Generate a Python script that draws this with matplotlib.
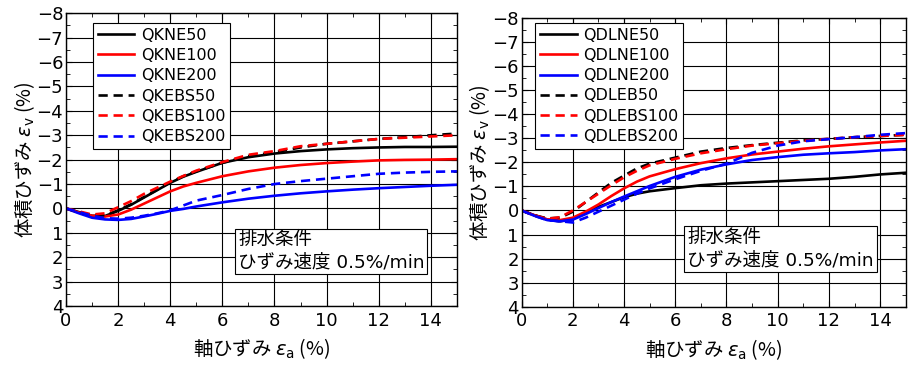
import matplotlib
matplotlib.use('Agg')
import matplotlib.pyplot as plt
from matplotlib.ticker import MultipleLocator

# 英数字は DejaVu、日本語は Noto Sans CJK JP にフォールバック
plt.rcParams['font.family'] = ['DejaVu Sans', 'Noto Sans CJK JP']
plt.rcParams['mathtext.fontset'] = 'dejavusans'
JP = ['Noto Sans CJK JP', 'DejaVu Sans']

# 共通の軸ひずみ (%)
xs = [0, 0.5, 1, 1.5, 2, 2.5, 3, 3.5, 4, 4.5, 5, 6, 7, 8, 9, 10, 11, 12, 13, 14, 15]

# 左図 (QK)
qkne50   = [0, 0.15, 0.30, 0.31, 0.10, -0.15, -0.45, -0.75, -1.05, -1.30, -1.50, -1.87, -2.10, -2.25, -2.35, -2.42, -2.47, -2.50, -2.52, -2.52, -2.53]
qkne100  = [0, 0.17, 0.30, 0.33, 0.25, 0.05, -0.20, -0.45, -0.70, -0.90, -1.05, -1.32, -1.52, -1.67, -1.78, -1.86, -1.92, -1.97, -1.99, -2.00, -2.02]
qkne200  = [0, 0.20, 0.38, 0.45, 0.47, 0.43, 0.33, 0.22, 0.10, 0.02, -0.08, -0.25, -0.40, -0.52, -0.62, -0.70, -0.77, -0.83, -0.88, -0.93, -0.97]
qkebs50  = [0, 0.15, 0.28, 0.28, 0.08, -0.17, -0.47, -0.77, -1.07, -1.32, -1.52, -1.87, -2.15, -2.30, -2.50, -2.65, -2.75, -2.85, -2.92, -3.00, -3.07]
qkebs100 = [0, 0.12, 0.25, 0.20, -0.05, -0.30, -0.60, -0.85, -1.10, -1.33, -1.55, -1.90, -2.20, -2.35, -2.55, -2.65, -2.75, -2.85, -2.90, -2.95, -3.00]
qkebs200 = [0, 0.15, 0.30, 0.40, 0.42, 0.38, 0.30, 0.20, 0.08, -0.12, -0.32, -0.55, -0.80, -1.00, -1.12, -1.22, -1.32, -1.42, -1.47, -1.50, -1.52]

# 右図 (QDL)
qdlne50   = [0, 0.20, 0.38, 0.45, 0.35, 0.10, -0.15, -0.35, -0.55, -0.70, -0.80, -0.93, -1.05, -1.12, -1.17, -1.22, -1.27, -1.32, -1.40, -1.50, -1.57]
qdlne100  = [0, 0.20, 0.37, 0.40, 0.30, 0.05, -0.25, -0.60, -0.92, -1.20, -1.42, -1.72, -1.97, -2.17, -2.33, -2.45, -2.57, -2.67, -2.75, -2.83, -2.90]
qdlne200  = [0, 0.22, 0.40, 0.45, 0.38, 0.15, -0.10, -0.35, -0.58, -0.80, -1.02, -1.40, -1.70, -1.92, -2.10, -2.22, -2.32, -2.38, -2.43, -2.50, -2.55]
qdleb50   = [0, 0.20, 0.33, 0.30, 0.05, -0.35, -0.75, -1.15, -1.45, -1.75, -1.95, -2.20, -2.45, -2.60, -2.72, -2.82, -2.92, -2.98, -3.05, -3.10, -3.15]
qdlebs100 = [0, 0.20, 0.35, 0.28, 0.00, -0.35, -0.70, -1.05, -1.38, -1.65, -1.88, -2.15, -2.38, -2.55, -2.70, -2.80, -2.90, -2.98, -3.05, -3.10, -3.15]
qdlebs200 = [0, 0.22, 0.40, 0.45, 0.50, 0.30, 0.05, -0.20, -0.45, -0.70, -0.92, -1.30, -1.65, -1.95, -2.40, -2.70, -2.88, -2.97, -3.05, -3.15, -3.22]

left_names = ['QKNE50', 'QKNE100', 'QKNE200', 'QKEBS50', 'QKEBS100', 'QKEBS200']
right_names = ['QDLNE50', 'QDLNE100', 'QDLNE200', 'QDLEB50', 'QDLEBS100', 'QDLEBS200']
colors = ['black', 'red', 'blue', 'black', 'red', 'blue']
styles = ['-', '-', '-', '--', '--', '--']

fig = plt.figure(figsize=(9.2, 3.65), dpi=100)
ax1 = fig.add_axes([0.0717, 0.1616, 0.425, 0.802])
ax2 = fig.add_axes([0.567, 0.160, 0.4175, 0.790])


def draw(ax, series, names, leg_xy, box_xy):
    for y, name, c, ls in zip(series, names, colors, styles):
        line, = ax.plot(xs, y, color=c, linestyle=ls, linewidth=1.9, label=name)
        if ls == '--':
            line.set_dashes((3.5, 2.2))
    ax.set_xlim(0, 15)
    ax.set_ylim(4, -8)
    ax.xaxis.set_major_locator(MultipleLocator(2))
    ax.xaxis.set_minor_locator(MultipleLocator(1))
    ax.yaxis.set_major_locator(MultipleLocator(1))
    ax.yaxis.set_minor_locator(MultipleLocator(0.5))
    ax.grid(True, which='major', color='black', linewidth=0.8)
    ax.tick_params(which='both', direction='in', top=True, right=True, labelsize=13)
    ax.tick_params(axis='x', pad=4)
    ax.tick_params(axis='y', pad=2)
    ax.tick_params(which='major', length=4)
    ax.tick_params(which='minor', length=3)
    for s in ax.spines.values():
        s.set_linewidth(1.0)
    ax.set_xlabel(r'軸ひずみ $\varepsilon_{\rm a}$ (%)', fontsize=14, labelpad=5, family=JP)
    ax.set_ylabel(r'体積ひずみ $\varepsilon_{\rm v}$ (%)', fontsize=14, labelpad=0, family=JP)
    leg = ax.legend(loc='upper left', bbox_to_anchor=leg_xy, fontsize=11.5, frameon=True,
                    fancybox=False, edgecolor='black', framealpha=1, handlelength=2.3,
                    handletextpad=0.4, labelspacing=0.33, borderpad=0.3, borderaxespad=0)
    leg.get_frame().set_linewidth(0.8)
    ax.text(box_xy[0], box_xy[1], '排水条件\nひずみ速度 0.5%/min', transform=ax.transAxes,
            fontsize=13.3, ha='left', va='bottom', linespacing=1.3,
            bbox=dict(boxstyle='square,pad=0.15', facecolor='white', edgecolor='black', linewidth=0.8))


draw(ax1, [qkne50, qkne100, qkne200, qkebs50, qkebs100, qkebs200], left_names, (0.069, 0.967), (0.44, 0.118))
draw(ax2, [qdlne50, qdlne100, qdlne200, qdleb50, qdlebs100, qdlebs200], right_names, (0.035, 0.984), (0.431, 0.129))

fig.savefig('out.png', dpi=100)
